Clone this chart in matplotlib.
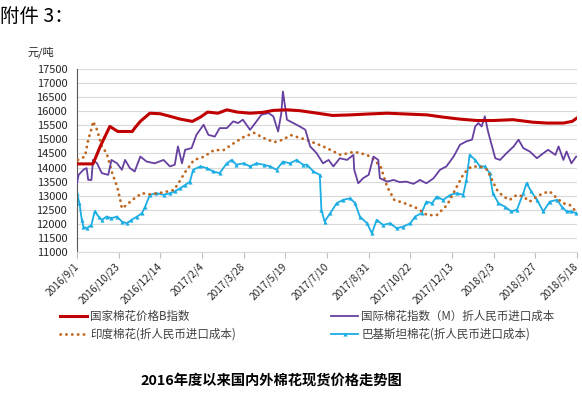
import pandas as pd
import matplotlib
matplotlib.use('Agg')
import matplotlib.pyplot as plt

plt.rcParams['font.family'] = ['Noto Sans CJK SC', 'DejaVu Sans']

# 起始日期 2016/9/1，横轴用天数偏移
start = pd.Timestamp('2016-09-01')

# 国家棉花价格B指数
red_days = [0, 20, 29, 41, 51, 69, 72, 79, 91, 104, 116, 129, 144, 154, 163, 176, 187, 200,
            216, 232, 245, 262, 278, 300, 319, 341, 362, 387, 412, 437, 457, 478, 499, 519,
            544, 569, 587, 607, 618, 624]
red_vals = [14130, 14130, 14750, 15460, 15280, 15280, 15400, 15640, 15930, 15910, 15820, 15720,
            15640, 15790, 15970, 15930, 16050, 15970, 15930, 15960, 16030, 16050, 16020, 15930,
            15850, 15870, 15900, 15930, 15900, 15870, 15790, 15720, 15670, 15670, 15700, 15610,
            15580, 15580, 15640, 15760]

# 国际棉花指数（M）折人民币进口成本
pur_days = [0, 2, 8, 12, 14, 18, 20, 25, 31, 39, 43, 50, 56, 60, 66, 72, 79, 87, 97, 108, 116,
            122, 126, 131, 135, 143, 149, 158, 164, 172, 178, 187, 195, 201, 207, 216, 224, 230,
            239, 245, 251, 255, 257, 262, 270, 278, 285, 291, 299, 307, 314, 320, 328, 337, 345,
            346, 351, 357, 364, 370, 376, 378, 387, 395, 403, 411, 420, 428, 436, 445, 453, 461,
            470, 478, 486, 493, 497, 501, 505, 509, 513, 518, 522, 528, 536, 545, 551, 557, 565,
            574, 582, 588, 597, 601, 607, 611, 617, 623]
pur_vals = [13440, 13740, 13920, 13980, 13560, 13560, 14270, 14150, 13800, 13740, 14270, 14150,
            13920, 14270, 13980, 13860, 14390, 14210, 14150, 14270, 14040, 14100, 14750, 14150,
            14630, 14690, 15160, 15520, 15160, 15100, 15400, 15400, 15640, 15580, 15700, 15340,
            15640, 15875, 15935, 15820, 15280, 15935, 16700, 15700, 15580, 15460, 15340, 14750,
            14510, 14150, 14270, 14040, 14330, 14270, 14450, 13920, 13440, 13620, 13740, 14390,
            14270, 13620, 13500, 13560, 13480, 13500, 13420, 13560, 13440, 13620, 13920, 14040,
            14390, 14810, 14930, 14990, 15460, 15580, 15460, 15820, 15280, 14750, 14330, 14270,
            14510, 14750, 14990, 14690, 14570, 14330, 14510, 14630, 14450, 14750, 14270, 14570,
            14150, 14390]

# 印度棉花(折人民币进口成本)
ind_days = [1, 10, 14, 19, 20, 25, 31, 37, 44, 50, 54, 56, 62, 69, 75, 81, 91, 104, 121, 129,
            134, 146, 158, 171, 183, 196, 208, 221, 233, 246, 256, 267, 287, 308, 329, 346, 362,
            371, 379, 387, 396, 408, 424, 437, 449, 462, 474, 483, 492, 503, 512, 518, 524, 532,
            540, 549, 557, 565, 574, 582, 590, 599, 607, 615, 623]
ind_vals = [14270, 14390, 14990, 15460, 15640, 15340, 14750, 14510, 13800, 13330, 12850, 12550,
            12670, 12850, 12970, 13090, 13050, 13100, 13200, 13550, 13800, 14270, 14380, 14620,
            14620, 14870, 15085, 15230, 15050, 14900, 14980, 15150, 14980, 14740, 14450, 14560,
            14450, 14270, 14030, 13320, 12850, 12740, 12560, 12310, 12310, 12670, 13320, 13800,
            14030, 14040, 13920, 13560, 13210, 12970, 12850, 13030, 12970, 12790, 12970, 13090,
            13150, 12910, 12730, 12670, 12435]

# 巴基斯坦棉花(折人民币进口成本)
pak_days = [0, 3, 6, 8, 12, 18, 22, 27, 31, 37, 43, 50, 56, 62, 68, 75, 81, 85, 91, 99, 108,
            116, 122, 129, 135, 141, 145, 154, 162, 170, 178, 187, 193, 199, 208, 216, 224, 233,
            241, 249, 257, 266, 274, 282, 287, 295, 303, 305, 309, 316, 324, 332, 341, 347, 353,
            362, 368, 374, 382, 391, 399, 407, 416, 422, 430, 436, 443, 449, 457, 466, 474, 482,
            486, 490, 497, 503, 509, 515, 519, 526, 534, 542, 549, 557, 561, 567, 574, 582, 590,
            599, 605, 611, 617, 623]
pak_vals = [13090, 12730, 12140, 11900, 11840, 11960, 12440, 12260, 12140, 12260, 12200, 12260,
            12080, 12020, 12140, 12260, 12380, 12610, 13030, 13090, 13030, 13090, 13150, 13270,
            13380, 13500, 13920, 14040, 13980, 13860, 13800, 14150, 14270, 14100, 14150, 14040,
            14150, 14100, 14040, 13920, 14210, 14150, 14270, 14100, 14100, 13860, 13740, 12500,
            12080, 12380, 12730, 12850, 12910, 12730, 12260, 12020, 11665, 12140, 11960, 12020,
            11840, 11900, 12020, 12260, 12380, 12790, 12730, 12970, 12850, 13030, 13090, 13030,
            13560, 14450, 14270, 14040, 14040, 13800, 13090, 12730, 12610, 12440, 12500, 13090,
            13440, 13150, 12850, 12440, 12790, 12850, 12610, 12440, 12440, 12380]

tick_days = list(range(0, 625, 52))
y_ticks = list(range(11000, 17501, 500))


def to_dates(days):
    return start + pd.to_timedelta(days, unit='D')


fig = plt.figure(figsize=(5.82, 3.93), dpi=100)
ax = fig.add_axes([0.1323, 0.3588, 0.8591, 0.4656])

l_red, = ax.plot(to_dates(red_days), red_vals, color='#C00000', lw=2.2, zorder=5,
                 label='国家棉花价格B指数')
l_pur, = ax.plot(to_dates(pur_days), pur_vals, color='#6640A0', lw=1.3, zorder=4,
                 label='国际棉花指数（M）折人民币进口成本')
l_ind, = ax.plot(to_dates(ind_days), ind_vals, color='#C0661E', lw=2.0,
                 linestyle=(0, (0.1, 2.0)), dash_capstyle='round', zorder=3,
                 label='印度棉花(折人民币进口成本)')
l_pak, = ax.plot(to_dates(pak_days), pak_vals, color='#1CADE4', lw=1.3, marker='^', ms=3,
                 mew=0, zorder=2, label='巴基斯坦棉花(折人民币进口成本)')

ax.set_xlim(to_dates([0])[0], to_dates([624])[0])
ax.set_ylim(11000, 17500)
ax.set_yticks(y_ticks)
ax.set_yticklabels([str(v) for v in y_ticks], fontsize=8, color='#262626')
ax.yaxis.grid(True, color='#D9D9D9', lw=0.8)
ax.set_axisbelow(True)

tick_dates = to_dates(tick_days)
ax.set_xticks(tick_dates)
ax.set_xticklabels([f'{d.year}/{d.month}/{d.day}' for d in tick_dates], fontsize=7.3,
                   color='#262626', rotation=45, ha='right', va='center',
                   rotation_mode='anchor')
ax.tick_params(axis='x', length=4, color='#BFBFBF', pad=5)
ax.tick_params(axis='y', length=0, pad=7)

for s in ['top', 'right']:
    ax.spines[s].set_visible(False)
ax.spines['bottom'].set_color('#D9D9D9')
ax.spines['left'].set_color('#595959')
ax.spines['left'].set_linestyle((0, (1, 1)))
ax.spines['left'].set_linewidth(0.8)

fig.text(0.0, 1 - 16 / 393, '附件 3：', fontsize=14, va='center', ha='left', color='#000000')
fig.text(27 / 582, 1 - 52 / 393, '元/吨', fontsize=8, va='center', ha='left', color='#262626')

leg_kw = dict(loc='upper left', frameon=False, fontsize=8.3, handlelength=2.4,
              handletextpad=0.25, labelspacing=0.45, borderpad=0, labelcolor='#404040')
fig.legend(handles=[l_red, l_ind], bbox_to_anchor=(54 / 582, 1 - 304 / 393), **leg_kw)
fig.legend(handles=[l_pur, l_pak], bbox_to_anchor=(325 / 582, 1 - 304 / 393), **leg_kw)

fig.text(0.466, 1 - 381 / 393, '2016年度以来国内外棉花现货价格走势图', fontsize=10.3,
         fontweight='bold', ha='center', va='center', color='#000000')

fig.savefig('out.png', dpi=100)
